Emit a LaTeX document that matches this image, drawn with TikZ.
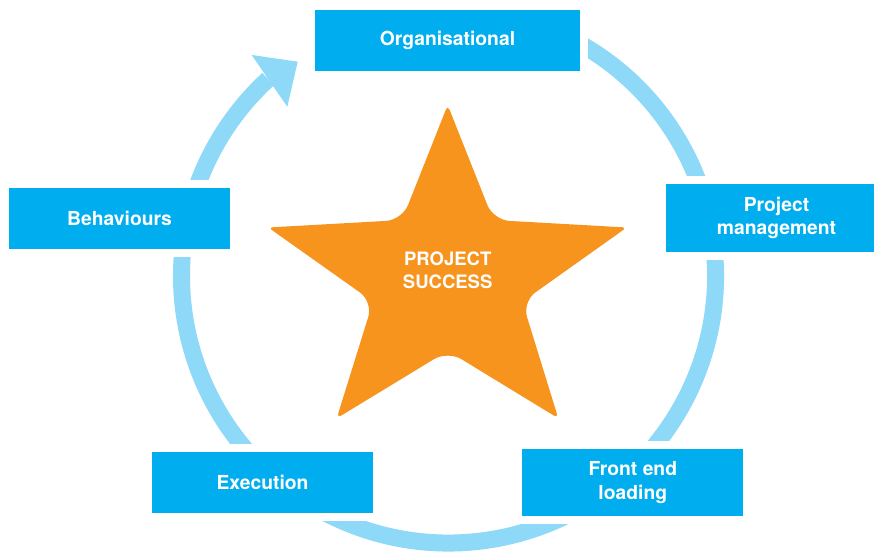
\documentclass[tikz,border=0pt]{standalone}
\usepackage{fontspec}
\setmainfont{TeX Gyre Heros}
\usetikzlibrary{calc}
\definecolor{boxblue}{HTML}{00AEEF}
\definecolor{ringblue}{HTML}{8ED8F8}
\definecolor{starorange}{HTML}{F7941D}
\begin{document}
\begin{tikzpicture}[x=1pt,y=-1pt,
  stagebox/.style={fill=boxblue, text=white, inner sep=0pt, align=center,
    font=\bfseries\fontsize{19.3}{23.5}\selectfont,
    minimum width=221pt, minimum height=61pt,
    preaction={draw=white, line width=16pt}},
  ring/.style={draw=ringblue, line width=17pt},
  startext/.style={text=white, align=center, inner sep=0pt,
    font=\bfseries\fontsize{18.5}{22.7}\selectfont}
]
\useasboundingbox (0,0) rectangle (874,551);
\clip (0,0) rectangle (874,551);
\fill[white] (0,0) rectangle (874,551);

% ring with arrow
\coordinate (c) at (448.5,276);
\draw[ring] ($(c)+(-62:267)$) arc[start angle=-62, end angle=227.5, radius=267];
\coordinate (h1) at (251.7,55);
\coordinate (h2) at (297.7,61.7);
\coordinate (h3) at (287.3,106.7);
\fill[ringblue] (h1) -- (h2) -- (h3) -- cycle;

% star
\coordinate (T) at (447.7,105);
\coordinate (TRi) at (493.3,220);
\coordinate (R) at (626.7,227.5);
\coordinate (BRi) at (522.3,301.7);
\coordinate (BR) at (558.3,418.3);
\coordinate (Bi) at (447.7,350.8);
\coordinate (BL) at (336.7,418.3);
\coordinate (BLi) at (373,301.7);
\coordinate (L) at (268.3,227.5);
\coordinate (TLi) at (402.1,220);
\fill[starorange] ($(T)!0.5!(TRi)$) [rounded corners=16pt] -- (TRi) [rounded corners=5pt] -- (R)
  [rounded corners=16pt] -- (BRi) [rounded corners=5pt] -- (BR)
  [rounded corners=16pt] -- (Bi) [rounded corners=5pt] -- (BL)
  [rounded corners=16pt] -- (BLi) [rounded corners=5pt] -- (L)
  [rounded corners=16pt] -- (TLi) [rounded corners=5pt] -- (T) -- cycle;
\node[startext] (ps) at (447.7,270) {PROJECT\\SUCCESS};

% boxes
\node[stagebox, minimum width=265pt] (org) at (447.5,40.3) {Organisational};
\node[stagebox, minimum height=67.7pt] (pm) at (776.5,218) {Project\\management};
\node[stagebox, minimum height=67pt] (fel) at (632.8,482.5) {Front end\\loading};
\node[stagebox] (exe) at (262.5,482.2) {Execution};
\node[stagebox] (beh) at (119.5,218) {Behaviours};
\end{tikzpicture}
\end{document}
